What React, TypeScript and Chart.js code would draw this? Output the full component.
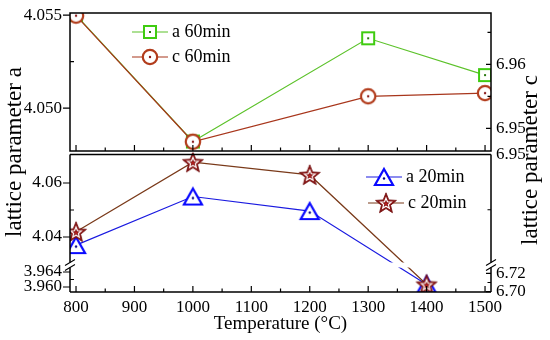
import React, { useEffect, useRef } from 'react';
import { Chart, LinearScale, registerables } from 'chart.js';

// ---------------- data ----------------
const temps60 = [800, 1000, 1300, 1500];
const a60min = [4.055, 4.0482, 4.05375, 4.05177];
const c60min = [6.9676, 6.9479, 6.955, 6.9555];
const temps20 = [800, 1000, 1200, 1400];
const a20min = [4.037, 4.055, 4.0496, 3.9607];
const c20min = [6.936, 6.9486, 6.9463, 6.7078];

const seriesLabels = ['a 60min', 'c 60min', 'a 20min', 'c 20min'];
const xTitle = 'Temperature (°C)';
const yLeftTitle = 'lattice parameter a';
const yRightTitle = 'lattice parameter c';

const xTicks = [800, 900, 1000, 1100, 1200, 1300, 1400, 1500];
const xMinorTicks = [850, 950, 1050, 1150, 1250, 1350, 1450];
const aTopTicks = [4.05, 4.055];
const aTopTickLabels = ['4.050', '4.055'];
const aTopMinor = [4.0525];
const aBotTicks = [3.96, 3.964, 4.04, 4.06];
const aBotTickLabels = ['3.960', '3.964', '4.04', '4.06'];
const aBotMinor = [3.962, 4.05];
const cTopTicks = [6.95, 6.96];
const cTopTickLabels = ['6.95', '6.96'];
const cTopMinor = [6.955, 6.965];
const cBotTicks = [6.7, 6.72, 6.95];
const cBotTickLabels = ['6.70', '6.72', '6.95'];
const cBotMinor = [6.71, 6.94];

// ---------------- axis layout (segments of broken axes) ----------------
const BOX = 139.5;
const TOP_LO = 1.5 / BOX;
const BOT_HI = 137.5 / BOX;
const BREAK = 27 / BOX;

type Seg = { min: number; max: number; from: number; to: number };
const SEGMENTS: Record<string, Seg[]> = {
  yA60: [{ min: 4.04769, max: 4.05511, from: TOP_LO, to: 1 }],
  yC60: [{ min: 6.94645, max: 6.96802, from: TOP_LO, to: 1 }],
  yA20: [
    { min: 3.95867, max: 3.96587, from: 0, to: BREAK },
    { min: 4.02963, max: 4.07056, from: BREAK, to: BOT_HI },
  ],
  yC20: [
    { min: 6.69967, max: 6.72902, from: 0, to: BREAK },
    { min: 6.93, max: 6.95, from: BREAK, to: BOT_HI },
  ],
};

class SegmentedScale extends LinearScale {
  static id = 'segmented';
  static defaults = LinearScale.defaults;
  getPixelForValue(value: any) {
    if (value === null || value === undefined || isNaN(value)) return NaN;
    const segs = SEGMENTS[(this as any).id];
    let seg = segs[0];
    for (const s of segs) if (value >= s.min) seg = s;
    const dec = seg.from + ((value - seg.min) / (seg.max - seg.min)) * (seg.to - seg.from);
    return (this as any).getPixelForDecimal(dec);
  }
  getValueForPixel(pixel: number) {
    const dec = (this as any).getDecimalForPixel(pixel);
    const segs = SEGMENTS[(this as any).id];
    let seg = segs[0];
    for (const s of segs) if (dec >= s.from) seg = s;
    return seg.min + ((dec - seg.from) / (seg.to - seg.from)) * (seg.max - seg.min);
  }
}

Chart.register(...registerables, SegmentedScale as any);

const FONT = '"Liberation Serif", "Times New Roman", serif';

function makeCanvas(w: number, h: number) {
  const c = document.createElement('canvas');
  c.width = w;
  c.height = h;
  return c;
}

function squareMarker() {
  const c = makeCanvas(16, 16);
  const g = c.getContext('2d')!;
  g.fillStyle = '#ffffff';
  g.fillRect(2, 2, 12, 12);
  g.strokeStyle = '#3fcc10';
  g.lineWidth = 2;
  g.strokeRect(2, 2, 12, 12);
  g.fillStyle = '#2a7a10';
  g.fillRect(7, 7, 2, 2);
  return c;
}
function circleMarker() {
  const c = makeCanvas(20, 20);
  const g = c.getContext('2d')!;
  g.beginPath();
  g.arc(10, 10, 7.2, 0, Math.PI * 2);
  g.fillStyle = '#ffffff';
  g.fill();
  g.strokeStyle = '#b23c1c';
  g.lineWidth = 2.2;
  g.stroke();
  g.beginPath();
  g.arc(10, 10, 1.2, 0, Math.PI * 2);
  g.fillStyle = '#8b1a1a';
  g.fill();
  return c;
}
function triangleMarker() {
  const c = makeCanvas(24, 22);
  const g = c.getContext('2d')!;
  g.beginPath();
  g.moveTo(12, 3);
  g.lineTo(21, 19);
  g.lineTo(3, 19);
  g.closePath();
  g.fillStyle = '#ffffff';
  g.fill();
  g.strokeStyle = '#0a0aff';
  g.lineWidth = 2.2;
  g.lineJoin = 'miter';
  g.stroke();
  g.beginPath();
  g.arc(12, 12.5, 1.2, 0, Math.PI * 2);
  g.fillStyle = '#00008b';
  g.fill();
  return c;
}
function starPath(g: CanvasRenderingContext2D, cx: number, cy: number, R: number, r: number) {
  g.beginPath();
  for (let i = 0; i < 10; i++) {
    const ang = -Math.PI / 2 + (i * Math.PI) / 5;
    const rad = i % 2 === 0 ? R : r;
    const px = cx + rad * Math.cos(ang);
    const py = cy + rad * Math.sin(ang);
    if (i === 0) g.moveTo(px, py);
    else g.lineTo(px, py);
  }
  g.closePath();
}
function starMarker() {
  const c = makeCanvas(24, 24);
  const g = c.getContext('2d')!;
  starPath(g, 12, 12.8, 11, 4.8);
  g.fillStyle = '#8b1414';
  g.fill();
  g.strokeStyle = '#6e0c0c';
  g.lineWidth = 0.8;
  g.stroke();
  starPath(g, 12, 12.8, 5.6, 2.5);
  g.strokeStyle = '#ffffff';
  g.lineWidth = 1.2;
  g.stroke();
  g.beginPath();
  g.arc(12, 12.8, 1.1, 0, Math.PI * 2);
  g.fillStyle = '#c02020';
  g.fill();
  return c;
}

function yScale(id: string, position: 'left' | 'right', weight: number, ticks: number[], labels: string[]) {
  const segs = SEGMENTS[id];
  return {
    type: 'segmented',
    position,
    stack: position === 'left' ? 'L' : 'R',
    stackWeight: 1,
    weight,
    bounds: 'data',
    min: segs[0].min,
    max: segs[segs.length - 1].max,
    grid: { display: false, drawTicks: false },
    border: { display: false },
    ticks: {
      autoSkip: false,
      padding: position === 'left' ? 8 : 5,
      color: '#000',
      font: { size: 17, family: FONT },
      callback: (_v: any, i: number) => labels[i],
    },
    afterBuildTicks: (s: any) => {
      s.ticks = ticks.map((v) => ({ value: v }));
    },
    afterFit: (s: any) => {
      s.width = position === 'left' ? 70 : 59;
      s.paddingTop = 0;
      s.paddingBottom = 0;
    },
  };
}

export default function App() {
  const ref = useRef<HTMLCanvasElement | null>(null);

  useEffect(() => {
    if (!ref.current) return;
    const sq = squareMarker();
    const ci = circleMarker();
    const tr = triangleMarker();
    const st = starMarker();

    const legendItems = [
      { ds: 1, x: 150, y: 32 },
      { ds: 0, x: 150, y: 57 },
      { ds: 3, x: 384, y: 177 },
      { ds: 2, x: 386, y: 203 },
    ];

    const decor = {
      id: 'decor',
      afterDraw(chart: any) {
        const ctx = chart.ctx as CanvasRenderingContext2D;
        const { left: L, right: R } = chart.chartArea;
        const sx = chart.scales.x;
        const sA60 = chart.scales.yA60;
        const sA20 = chart.scales.yA20;
        const sC60 = chart.scales.yC60;
        const sC20 = chart.scales.yC20;
        const t1 = sA60.getPixelForDecimal(1);
        const b1 = sA60.getPixelForDecimal(TOP_LO);
        const t2 = sA20.getPixelForDecimal(BOT_HI);
        const b2 = sA20.getPixelForDecimal(0);
        const yb = sA20.getPixelForDecimal(BREAK);
        ctx.save();
        // gap at the axis break
        ctx.fillStyle = '#ffffff';
        ctx.fillRect(L + 1, yb - 2.5, R - L - 2, 5);
        // frames
        ctx.strokeStyle = '#000';
        ctx.lineWidth = 1.5;
        ctx.strokeRect(L, t1, R - L, b1 - t1);
        ctx.beginPath();
        ctx.moveTo(L, t2); ctx.lineTo(R, t2);
        ctx.moveTo(L, b2); ctx.lineTo(R, b2);
        ctx.moveTo(L, t2); ctx.lineTo(L, yb - 2.5);
        ctx.moveTo(L, yb + 2.5); ctx.lineTo(L, b2);
        ctx.moveTo(R, t2); ctx.lineTo(R, yb - 2.5);
        ctx.moveTo(R, yb + 2.5); ctx.lineTo(R, b2);
        ctx.stroke();
        // ticks
        ctx.lineWidth = 1.2;
        ctx.beginPath();
        const hx = (vals: number[], y: number, len: number) =>
          vals.forEach((v) => {
            const x = sx.getPixelForValue(v);
            ctx.moveTo(x, y);
            ctx.lineTo(x, y - len);
          });
        hx(xTicks, b2, 6); hx(xMinorTicks, b2, 3.5);
        hx(xTicks, b1, 6); hx(xMinorTicks, b1, 3.5);
        const vy = (s: any, vals: number[], x: number, len: number) =>
          vals.forEach((v) => {
            const y = s.getPixelForValue(v);
            ctx.moveTo(x, y);
            ctx.lineTo(x + len, y);
          });
        vy(sA60, aTopTicks, L, -7); vy(sA60, aTopMinor, L, 4);
        vy(sA20, aBotTicks, L, -7); vy(sA20, aBotMinor, L, 4);
        vy(sC60, cTopTicks, R, -5); vy(sC60, cTopMinor, R, -3.5);
        vy(sC20, cBotTicks, R, -5); vy(sC20, cBotMinor, R, -3.5);
        ctx.stroke();
        // break marks
        ctx.lineWidth = 1.1;
        ctx.beginPath();
        [L, R].forEach((x) => {
          [yb - 2.5, yb + 2.5].forEach((y) => {
            ctx.moveTo(x - 5, y + 3);
            ctx.lineTo(x + 5, y - 3);
          });
        });
        ctx.stroke();
        // legends
        ctx.font = `18px ${FONT}`;
        ctx.textAlign = 'left';
        ctx.textBaseline = 'middle';
        legendItems.forEach((it) => {
          const ds = chart.data.datasets[it.ds];
          ctx.strokeStyle = ds.borderColor;
          ctx.lineWidth = 1.2;
          ctx.beginPath();
          ctx.moveTo(it.x - 18, it.y);
          ctx.lineTo(it.x + 18, it.y);
          ctx.stroke();
          const img = ds.pointStyle as HTMLCanvasElement;
          ctx.drawImage(img, it.x - img.width / 2, it.y - img.height / 2);
          ctx.fillStyle = '#000';
          ctx.fillText(ds.label, it.x + 22, it.y);
        });
        // y titles
        ctx.font = `23px ${FONT}`;
        ctx.textAlign = 'center';
        ctx.fillStyle = '#000';
        ctx.save();
        ctx.translate(15, 152);
        ctx.rotate(-Math.PI / 2);
        ctx.fillText(yLeftTitle, 0, 0);
        ctx.restore();
        ctx.save();
        ctx.translate(531, 160);
        ctx.rotate(-Math.PI / 2);
        ctx.fillText(yRightTitle, 0, 0);
        ctx.restore();
        ctx.restore();
      },
    };

    const pts = (xs: number[], ys: number[]) => xs.map((x, i) => ({ x, y: ys[i] }));
    const common = { borderWidth: 1.2, pointRadius: 8, pointHoverRadius: 8, tension: 0, fill: false };

    const chart = new Chart(ref.current, {
      type: 'line',
      data: {
        datasets: [
          { ...common, label: seriesLabels[1], data: pts(temps60, c60min), yAxisID: 'yC60', borderColor: '#a8361c', pointStyle: ci, order: 0 },
          { ...common, label: seriesLabels[0], data: pts(temps60, a60min), yAxisID: 'yA60', borderColor: '#5cc22a', pointStyle: sq, order: 1 },
          { ...common, label: seriesLabels[3], data: pts(temps20, c20min), yAxisID: 'yC20', borderColor: '#7a3a1a', pointStyle: st, order: 2 },
          { ...common, label: seriesLabels[2], data: pts(temps20, a20min), yAxisID: 'yA20', borderColor: '#1a1ae0', pointStyle: tr, order: 3 },
        ] as any,
      },
      options: {
        responsive: false,
        animation: false,
        events: [],
        layout: { padding: { top: 13, left: 0, right: 0, bottom: 0 } },
        plugins: { legend: { display: false }, tooltip: { enabled: false } },
        scales: {
          x: {
            type: 'linear',
            position: 'bottom',
            bounds: 'data',
            min: 789.7,
            max: 1510.2,
            grid: { display: false, drawTicks: false },
            border: { display: false },
            ticks: {
              autoSkip: false,
              maxRotation: 0,
              padding: 5,
              color: '#000',
              font: { size: 17, family: FONT },
              callback: (v: any) => String(v),
            },
            afterBuildTicks: (s: any) => {
              s.ticks = xTicks.map((v) => ({ value: v }));
            },
            afterFit: (s: any) => {
              s.height = 48;
              s.paddingLeft = 0;
              s.paddingRight = 0;
            },
            title: { display: true, text: xTitle, color: '#000', font: { size: 19, family: FONT }, padding: { top: 0, bottom: 5 } },
          },
          yA60: yScale('yA60', 'left', 1, aTopTicks, aTopTickLabels),
          yA20: yScale('yA20', 'left', 0, aBotTicks, aBotTickLabels),
          yC60: yScale('yC60', 'right', 0, cTopTicks, cTopTickLabels),
          yC20: yScale('yC20', 'right', 1, cBotTicks, cBotTickLabels),
        } as any,
      },
      plugins: [decor],
    });
    return () => chart.destroy();
  }, []);

  return (
    <div style={{ position: 'fixed', left: 0, top: 0, width: 550, height: 340, background: '#fff' }}>
      <canvas ref={ref} width={550} height={340} style={{ display: 'block', width: 550, height: 340 }} />
    </div>
  );
}
